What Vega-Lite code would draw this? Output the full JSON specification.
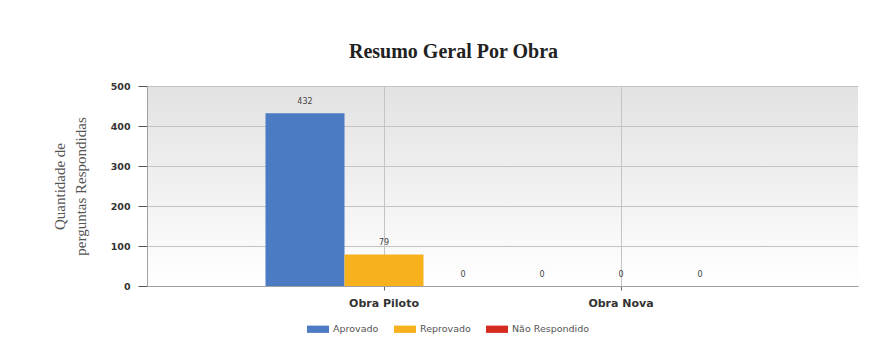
{
  "$schema": "https://vega.github.io/schema/vega-lite/v6.json",
  "autosize": {"type": "none"},
  "width": 711,
  "height": 200,
  "padding": {"left": 147, "top": 86, "right": 31, "bottom": 57},
  "background": "#ffffff",
  "title": {
    "text": "Resumo Geral Por Obra",
    "font": "Liberation Serif",
    "fontSize": 20,
    "fontWeight": "bold",
    "color": "#222222",
    "anchor": "middle",
    "dx": -49,
    "offset": 19
  },
  "data": {
    "values": [
      {"obra": "Obra Piloto", "status": "Aprovado", "n": 432},
      {"obra": "Obra Piloto", "status": "Reprovado", "n": 79},
      {"obra": "Obra Piloto", "status": "Não Respondido", "n": 0},
      {"obra": "Obra Nova", "status": "Aprovado", "n": 0},
      {"obra": "Obra Nova", "status": "Reprovado", "n": 0},
      {"obra": "Obra Nova", "status": "Não Respondido", "n": 0}
    ]
  },
  "encoding": {
    "x": {
      "field": "obra",
      "type": "nominal",
      "sort": ["Obra Piloto", "Obra Nova"],
      "scale": {"paddingInner": 0, "paddingOuter": 0.5},
      "axis": {
        "title": null,
        "labelAngle": 0,
        "labelFont": "DejaVu Sans",
        "labelFontWeight": "bold",
        "labelFontSize": 11,
        "labelColor": "#333333",
        "labelPadding": 7,
        "tickSize": 4,
        "tickColor": "#666666",
        "domainColor": "#a0a0a0",
        "grid": true,
        "gridColor": "#c4c4c4"
      }
    },
    "xOffset": {
      "field": "status",
      "type": "nominal",
      "sort": ["Aprovado", "Reprovado", "Não Respondido"],
      "scale": {"paddingInner": 0, "paddingOuter": 0}
    },
    "y": {
      "field": "n",
      "type": "quantitative",
      "scale": {"domain": [0, 500], "nice": false},
      "axis": {
        "title": ["Quantidade de", "perguntas Respondidas"],
        "titleFont": "Liberation Serif",
        "titleFontSize": 15,
        "titleFontWeight": "normal",
        "titleColor": "#555555",
        "titleLineHeight": 21,
        "titleAngle": -90,
        "titleAlign": "center",
        "titleBaseline": "middle",
        "titleX": -88,
        "titleY": 100,
        "values": [0, 100, 200, 300, 400, 500],
        "labelFont": "DejaVu Sans",
        "labelFontWeight": "bold",
        "labelFontSize": 9.5,
        "labelColor": "#333333",
        "labelPadding": 8,
        "tickSize": 9,
        "tickColor": "#555555",
        "domainColor": "#a0a0a0",
        "gridColor": "#c4c4c4"
      }
    }
  },
  "layer": [
    {
      "mark": {"type": "bar"},
      "encoding": {
        "color": {
          "field": "status",
          "type": "nominal",
          "sort": ["Aprovado", "Reprovado", "Não Respondido"],
          "scale": {
            "domain": ["Aprovado", "Reprovado", "Não Respondido"],
            "range": ["#4a7bc3", "#f6b11c", "#d42a1f"]
          },
          "legend": {
            "title": null,
            "orient": "none",
            "direction": "horizontal",
            "legendX": 160,
            "legendY": 232,
            "symbolType": "M-1,-0.33L1,-0.33L1,0.33L-1,0.33Z",
            "symbolSize": 484,
            "symbolStrokeWidth": 0,
            "labelFont": "DejaVu Sans",
            "labelFontSize": 9.5,
            "labelColor": "#555555",
            "labelOffset": 4,
            "columnPadding": 15
          }
        }
      }
    },
    {
      "mark": {
        "type": "text",
        "baseline": "middle",
        "dy": -11,
        "font": "DejaVu Sans",
        "fontSize": 8,
        "fill": "#444444"
      },
      "encoding": {"text": {"field": "n", "type": "quantitative"}}
    }
  ],
  "config": {
    "view": {
      "stroke": null,
      "fill": {
        "gradient": "linear",
        "x1": 0, "y1": 0, "x2": 0, "y2": 1,
        "stops": [
          {"offset": 0, "color": "#e2e2e2"},
          {"offset": 1, "color": "#ffffff"}
        ]
      }
    }
  }
}
